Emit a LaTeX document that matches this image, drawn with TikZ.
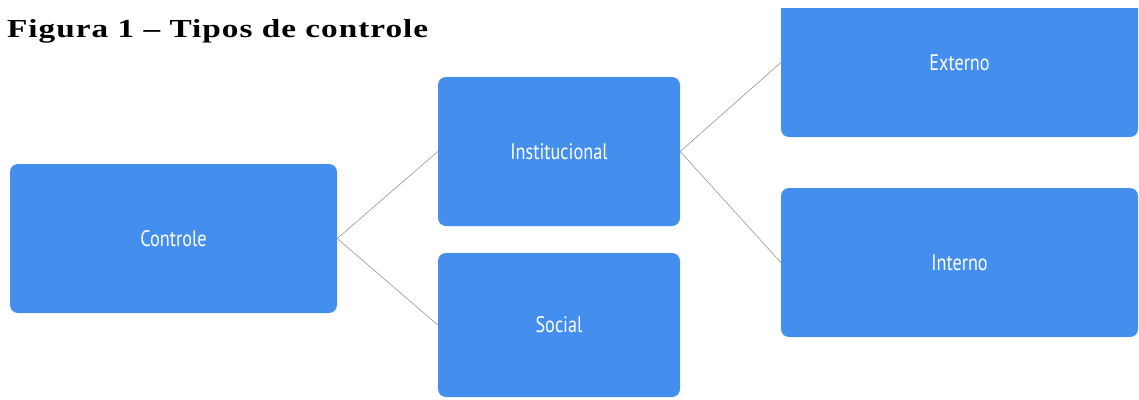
\documentclass[tikz,border=0pt]{standalone}
\usepackage{fontspec}
\setmainfont{Liberation Serif}
\newfontfamily\titlefont[LetterSpace=3]{Liberation Serif}
\newfontfamily\boxfont{PT Sans}
\definecolor{boxblue}{RGB}{68,143,238}
\definecolor{linkgray}{RGB}{150,150,150}
\tikzset{
  blockbox/.style={fill=boxblue, draw=none, rounded corners=8pt, inner sep=0pt,
    text=white, font=\boxfont\fontsize{22.5}{24}\selectfont},
  link/.style={draw=linkgray, line width=0.6pt},
  titletext/.style={anchor=base west, inner sep=0pt, font=\titlefont\bfseries\fontsize{26}{28}\selectfont},
}
\newcommand{\nar}[1]{\scalebox{0.81}[1]{#1}}
\begin{document}
\begin{tikzpicture}[x=1pt,y=-1pt]
\useasboundingbox (0,0) rectangle (1139,399);
\fill[white] (0,0) rectangle (1139,399);
\node[titletext] (title) at (7,37) {\resizebox{421pt}{\height}{Figura 1 – Tipos de controle}};
\node[blockbox, minimum width=327pt, minimum height=149pt] (ctrl) at (173.5,238.5) {\nar{Controle}};
\node[blockbox, minimum width=242pt, minimum height=149pt] (inst) at (559,151.5) {\nar{Institucional}};
\node[blockbox, minimum width=242pt, minimum height=144pt] (soc) at (559,325) {\nar{Social}};
\begin{scope}
\clip (0,8) rectangle (1139,399);
\node[blockbox, minimum width=357pt, minimum height=149pt] (ext) at (959.5,62.5) {\nar{Externo}};
\end{scope}
\node[blockbox, minimum width=357pt, minimum height=149pt] (int) at (959.5,262.5) {\nar{Interno}};
\draw[link] (ctrl.east) -- (inst.west);
\draw[link] (ctrl.east) -- (soc.west);
\draw[link] (inst.east) -- (ext.west);
\draw[link] (inst.east) -- (int.west);
\end{tikzpicture}
\end{document}
